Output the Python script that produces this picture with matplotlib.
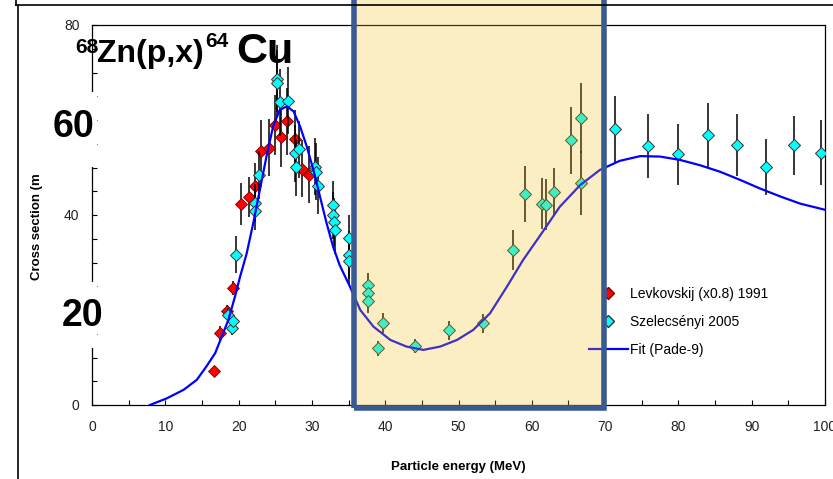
import matplotlib.pyplot as plt
from matplotlib.patches import Rectangle
from matplotlib.lines import Line2D

plt.rcParams["font.family"] = ["Liberation Sans", "DejaVu Sans"]

# Levkovskij (x0.8) 1991
lev_e = [16.7, 17.4, 18.4, 19.3, 20.3, 21.4, 22.2, 23.1, 24.1, 24.9, 25.8, 26.6, 27.7, 28.7, 29.6]
lev_s = [7.2, 15.1, 19.8, 24.6, 42.3, 43.7, 46.1, 53.4, 54.2, 59.0, 56.5, 59.7, 55.9, 49.7, 48.5]
lev_err = [0.8, 1.5, 1.2, 1.5, 4.4, 4.2, 4.9, 6.7, 6.0, 6.3, 6.3, 7.0, 6.3, 6.0, 6.0]

# Szelecsenyi 2005
sz_e = [18.6, 19.1, 19.2, 19.6, 22.3, 22.3, 22.8, 25.2, 25.3, 25.6, 26.7, 27.7, 27.8, 28.3,
        30.4, 30.5, 30.8, 32.9, 32.9, 33.0, 33.2, 35.1, 35.1, 35.1, 37.6, 37.6, 37.6, 39.0,
        39.7, 44.0, 48.7, 53.4, 57.5, 59.1, 61.4, 62.0, 63.0, 65.3, 66.7, 66.7, 71.4, 75.8,
        79.9, 84.0, 88.0, 91.9, 95.8, 99.5]
sz_s = [18.9, 16.3, 17.7, 31.6, 42.6, 40.9, 48.4, 68.7, 67.7, 63.7, 64.1, 53.0, 50.1, 53.8,
        50.2, 49.1, 46.2, 42.2, 39.9, 38.5, 36.8, 35.1, 31.6, 30.4, 25.3, 23.5, 21.8, 11.9,
        17.2, 12.4, 15.7, 17.2, 32.7, 44.5, 42.4, 42.2, 44.8, 55.7, 60.4, 46.7, 58.1, 54.5,
        52.8, 56.9, 54.7, 50.1, 54.7, 53.1]
sz_err = [1.5, 1.5, 1.5, 3.9, 4.0, 4.0, 5.0, 7.0, 7.0, 7.0, 7.0, 6.0, 6.0, 6.0,
          6.0, 6.0, 6.0, 5.0, 5.0, 5.0, 5.0, 5.0, 5.0, 5.0, 2.5, 2.5, 2.5, 1.5,
          2.1, 1.5, 2.0, 2.0, 4.2, 5.9, 5.3, 5.3, 5.0, 7.0, 7.4, 6.7, 6.9, 6.8,
          6.4, 6.7, 6.5, 5.8, 6.2, 6.8]

# Fit (Pade-9)
fit_e = [7.9, 10.2, 12.5, 14.3, 15.6, 16.8, 17.7, 18.6, 19.5, 20.2, 21.1, 22.0, 22.9,
         23.8, 24.7, 25.6, 26.6, 27.5, 28.4, 29.3, 30.2, 31.1, 32.0, 32.9, 33.8, 35.2,
         36.6, 38.4, 40.7, 42.9, 45.2, 47.5, 49.8, 52.0, 54.3, 56.6, 58.8, 61.1, 63.8,
         66.6, 69.3, 72.0, 74.8, 77.5, 80.2, 82.9, 85.7, 88.4, 91.1, 93.9, 96.6, 100.0]
fit_s = [0.0, 1.4, 3.2, 5.3, 8.1, 10.9, 14.4, 17.9, 22.8, 27.0, 31.9, 38.3, 45.3,
         52.3, 58.6, 62.1, 62.9, 61.8, 58.6, 54.4, 49.5, 43.9, 38.3, 33.3, 29.4, 24.9,
         20.0, 16.5, 13.7, 12.3, 11.6, 12.3, 13.7, 15.8, 19.3, 24.9, 30.5, 35.6, 41.7,
         46.3, 49.5, 51.4, 52.4, 52.3, 51.6, 50.5, 49.1, 47.4, 45.6, 43.9, 42.4, 41.1]

W, H = 833, 479
fig = plt.figure(figsize=(W / 100, H / 100), dpi=100)
ax = fig.add_axes([92 / W, 1 - 405 / H, 733 / W, 380 / H])


def fx(px):
    return px / W


def fy(py):
    return 1 - py / H


ax.errorbar(lev_e, lev_s, yerr=lev_err, fmt="D", color="red", mec="#7a0000", mew=0.6,
            ms=6.5, ecolor="black", elinewidth=1.1, capsize=0, zorder=3)
ax.errorbar(sz_e, sz_s, yerr=sz_err, fmt="D", color="#00ffff", mec="#333333", mew=0.7,
            ms=6, ecolor="black", elinewidth=1.1, capsize=0, zorder=4)
ax.plot(fit_e, fit_s, color="#0000ff", lw=1.6, solid_joinstyle="round", zorder=5)

ax.set_xlim(0, 100)
ax.set_ylim(0, 80)
ax.set_xticks(range(0, 101, 10))
ax.set_xticks(range(0, 101, 5), minor=True)
ax.set_yticks([0, 40, 80])
ax.set_yticks(range(0, 81, 5), minor=True)
ax.tick_params(which="both", direction="in", length=3.5, width=0.8)
ax.tick_params(axis="x", which="major", pad=11, labelsize=10, labelcolor="#222222")
ax.tick_params(axis="y", which="major", pad=9, labelsize=10, labelcolor="#222222")
for s in ax.spines.values():
    s.set_linewidth(0.9)

# legend (handles without error bars)
handles = [
    Line2D([], [], ls="none", marker="D", color="red", mec="#7a0000", ms=6.5),
    Line2D([], [], ls="none", marker="D", color="#00ffff", mec="#333333", ms=6),
    Line2D([], [], color="#0000ff", lw=1.6),
]
labels = ["Levkovskij (x0.8) 1991", "Szelecsényi 2005", "Fit (Pade-9)"]
leg = ax.legend(handles, labels, loc="upper left", frameon=False, fontsize=10,
                handlelength=2.8, handletextpad=0.15, labelspacing=1.0, borderpad=0,
                borderaxespad=0, bbox_to_anchor=(fx(589), fy(287)),
                bbox_transform=fig.transFigure)
leg.set_zorder(2)

# highlighted energy window
x0, x1 = 35.7, 69.85
ax.add_patch(Rectangle((x0, -0.6), x1 - x0, 95, facecolor=(0.965, 0.753, 0.09), alpha=0.26,
                       edgecolor="none", clip_on=False, zorder=6))
ax.add_patch(Rectangle((x0, -0.6), x1 - x0, 95, facecolor="none", edgecolor="#3a5a94",
                       lw=4, clip_on=False, zorder=7))

ax.set_xlabel("Particle energy (MeV)", fontsize=9.5, fontweight="bold", labelpad=19)
fig.text(fx(37), fy(280), "Cross section (m", rotation=90, ha="center", va="bottom",
         fontsize=9.5, fontweight="bold")

# big overlay labels on white boxes
fig.patches.append(Rectangle((fx(25), fy(167)), fx(72), 75 / H, transform=fig.transFigure,
                             facecolor="white", edgecolor="none", zorder=8))
fig.patches.append(Rectangle((fx(50), fy(348)), fx(47), 66 / H, transform=fig.transFigure,
                             facecolor="white", edgecolor="none", zorder=8))
fig.text(fx(73), fy(127), "60", fontsize=27, fontweight="bold", ha="center", va="center",
         zorder=9)
fig.text(fx(83), fy(316), "20", fontsize=27, fontweight="bold", ha="center", va="center",
         zorder=9)

# title pieces
fig.text(fx(75), fy(53), "68", fontsize=15, fontweight="bold", ha="left", va="baseline")
fig.text(fx(97), fy(62), "Zn(p,x)", fontsize=23, fontweight="bold", ha="left", va="baseline")
fig.text(fx(205), fy(47), "64", fontsize=15, fontweight="bold", ha="left", va="baseline")
fig.text(fx(236), fy(63), "Cu", fontsize=31, fontweight="bold", ha="left", va="baseline")

# outer frame
fig.add_artist(Line2D([fx(18), fx(18)], [fy(6), 0], color="black", lw=1.2,
                      transform=fig.transFigure))
fig.add_artist(Line2D([fx(16), 1], [fy(5), fy(5)], color="black", lw=1.2,
                      transform=fig.transFigure))
fig.add_artist(Line2D([fx(16), fx(16)], [1, fy(5)], color="black", lw=1.2,
                      transform=fig.transFigure))

plt.savefig("out.png", dpi=100)
